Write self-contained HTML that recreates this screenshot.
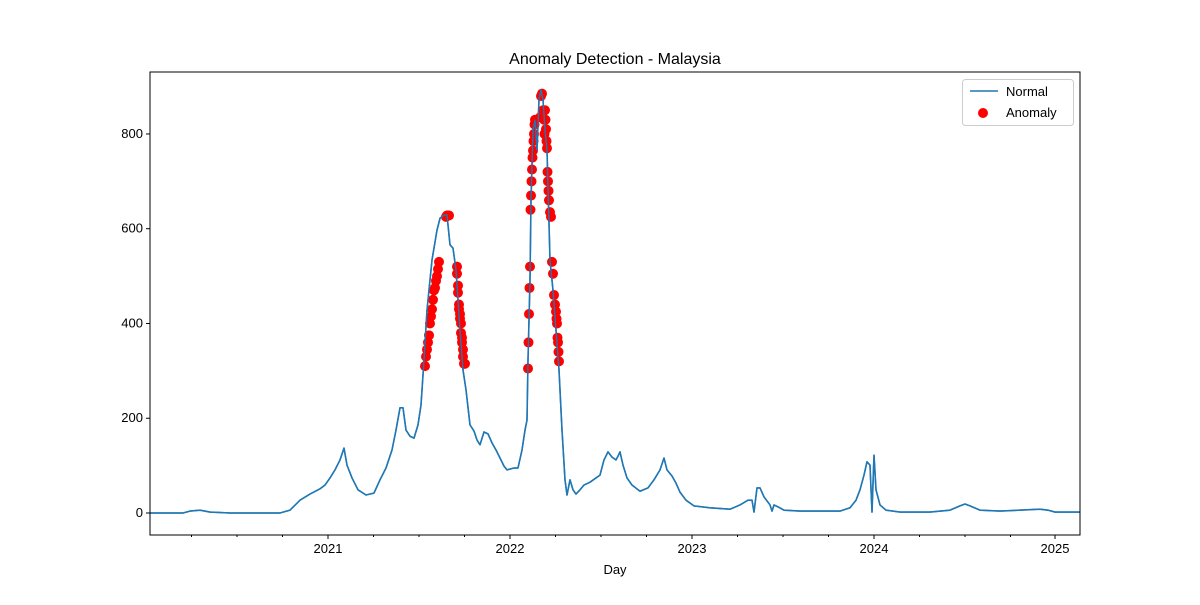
<!DOCTYPE html>
<html><head><meta charset="utf-8"><style>
body{margin:0;background:#fff;font-family:"Liberation Sans",sans-serif}
svg text{font-family:"Liberation Sans",sans-serif}
</style></head><body>
<svg id="chart" width="1200" height="600" xmlns="http://www.w3.org/2000/svg"></svg>
<script>
// day index (half-day resolution units) and daily new values
const lineDays=[0,66,80,100,120,160,260,280,300,320,340,350,360,370,380,388,394,404,416,432,448,460,472,484,492,500,506,512,520,528,536,542,548,554,564,574,580,588,594,600,606,612,620,626,632,640,648,654,660,668,676,684,692,700,708,714,728,736,744,750,754,756,760,762,766,770,774,778,782,786,790,794,800,806,812,818,824,830,834,840,846,852,860,868,880,892,900,908,916,924,932,936,940,946,954,964,980,996,1008,1020,1028,1034,1044,1052,1060,1072,1088,1120,1160,1180,1196,1204,1208,1214,1220,1228,1240,1244,1248,1256,1268,1300,1380,1400,1412,1420,1428,1434,1440,1444,1448,1452,1460,1472,1500,1560,1600,1620,1630,1640,1660,1700,1780,1796,1810,1860];
const lineVals=[0,0,4,6,2,0,0,6,27,40,51,59,74,91,112,137,101,74,49,38,42,70,95,133,175,222,222,175,162,158,186,228,323,428,534,597,622,629,629,566,559,513,386,302,260,186,173,154,144,171,167,148,133,116,99,91,95,95,133,175,196,323,492,660,808,829,766,872,893,872,808,766,534,470,386,302,175,70,38,70,49,40,49,59,65,74,80,112,129,118,112,120,129,101,74,59,46,53,70,91,116,91,78,63,44,27,15,11,8,17,27,27,2,53,53,34,17,4,17,13,6,4,4,11,27,49,80,108,101,2,122,49,17,6,2,2,6,15,19,15,6,4,8,6,2,2];
const anomDays=[550,552,554,556,558,560,562,564,566,568,570,572,574,576,578,592,594,596,598,614,614,616,616,618,618,620,620,622,622,624,624,626,626,628,630,756,757,758,759,760,761,762,763,764,765,766,767,768,769,770,780,782,784,786,788,789,790,791,792,793,794,795,796,797,798,800,802,804,806,808,810,812,813,814,815,816,817,818];
const anomVals=[310,330,345,360,375,400,415,430,450,470,475,490,500,515,530,625,628,628,628,520,505,480,465,440,430,420,410,400,380,370,360,345,330,315,315,305,360,420,475,520,640,670,700,725,750,765,785,800,820,830,835,880,885,850,830,800,850,830,810,785,770,720,700,680,660,635,625,530,505,460,440,425,410,400,370,360,340,320];
const yTicks=[0,200,400,600,800];
const xTickLabels=["2021","2022","2023","2024","2025"];
const xTickDays=[356,720,1084,1448,1810];
const minorDays=[83,174,265,447,538,629,811,902,993,1175,1266,1357,1539,1630,1721];

const L=150,R=1080,T=72,B=535;
const xs=d=>L+d*(R-L)/1860;
const ys=v=>513-v*0.4738;
const svg=document.getElementById('chart');
const NS="http://www.w3.org/2000/svg";
function mk(t,a){const e=document.createElementNS(NS,t);for(const k in a)e.setAttribute(k,a[k]);svg.appendChild(e);return e;}

let t=mk('text',{x:615,y:64,'text-anchor':'middle','font-size':16,fill:'#000'});t.textContent='Anomaly Detection - Malaysia';



yTicks.forEach(v=>{
 const l=mk('line',{x1:L-4,x2:L,y1:ys(v),y2:ys(v),stroke:'#000'});
 
 
 const tx=mk('text',{x:L-7,y:ys(v)+4,'text-anchor':'end','font-size':13});tx.textContent=v;
 
 
});
xTickDays.forEach((d,i)=>{
 const l=mk('line',{x1:xs(d),x2:xs(d),y1:B,y2:B+4,stroke:'#000'});
 
 
 const tx=mk('text',{x:xs(d),y:B+18,'text-anchor':'middle','font-size':13});tx.textContent=xTickLabels[i];
 
 
});
minorDays.forEach(d=>{
 const l=mk('line',{x1:xs(d),x2:xs(d),y1:B,y2:B+2,stroke:'#000'});
 
 
});
t=mk('text',{x:615,y:574,'text-anchor':'middle','font-size':13});t.textContent='Day';



const pts=lineDays.map((d,i)=>xs(d)+','+ys(lineVals[i])).join(' ');
const p=mk('polyline',{points:pts,fill:'none',stroke:'#1f77b4','stroke-width':1.6,'stroke-linejoin':'round'});



anomDays.forEach((d,i)=>{
 const c=mk('circle',{cx:xs(d),cy:ys(anomVals[i]),r:5,fill:'#ff0000'});
 
 
});
const p2=mk('polyline',{points:pts,fill:'none',stroke:'#1f77b4','stroke-width':1.4,'stroke-linejoin':'round'});



const fr=mk('rect',{x:L,y:T,width:R-L,height:B-T,fill:'none',stroke:'#000','stroke-width':1});



const lg=mk('rect',{x:962.5,y:79.5,width:111,height:46,rx:3,fill:'#fff',stroke:'#ccc'});


const ll=mk('line',{x1:970,x2:998,y1:91,y2:91,stroke:'#1f77b4','stroke-width':1.6});


t=mk('text',{x:1006,y:96,'font-size':13});t.textContent='Normal';


const lc=mk('circle',{cx:983,cy:113,r:5,fill:'#ff0000'});


t=mk('text',{x:1006,y:117,'font-size':13});t.textContent='Anomaly';


</script>
</body></html>
